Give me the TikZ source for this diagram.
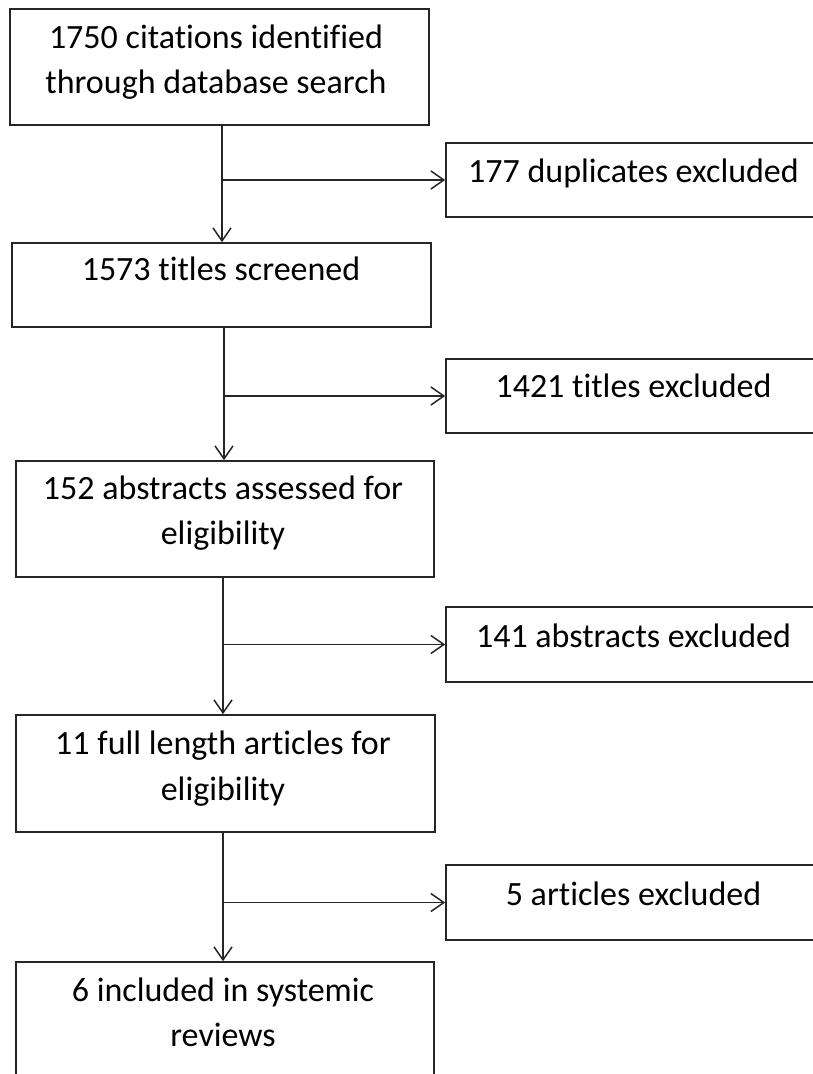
\documentclass[tikz,border=0pt]{standalone}
\usepackage{fontspec}
\setmainfont{Carlito}[Ligatures=NoCommon]
\usetikzlibrary{arrows.meta}
\begin{document}
\begin{tikzpicture}[x=1pt,y=-1pt,
  box/.style={draw=black!85,line width=1.6pt,rectangle,inner sep=0pt},
  txt/.style={anchor=base,align=center,inner sep=0pt,font=\fontsize{34}{45.5}\selectfont},
  arr/.style={draw=black!85,line width=1.6pt,-{Straight Barb[length=13pt,width=18pt,line width=1.5pt]}}]
\useasboundingbox (0,0) rectangle (812,1074);
% main column boxes
\node[box,minimum width=419pt,minimum height=116pt] (b1) at (219.5,67) {};
\node[box,minimum width=419pt,minimum height=84pt] (b2) at (221.5,285) {};
\node[box,minimum width=418pt,minimum height=116pt] (b3) at (225,519) {};
\node[box,minimum width=419pt,minimum height=117pt] (b4) at (225.5,773.5) {};
\node[box,minimum width=418pt,minimum height=116pt] (b5) at (225,1020) {};
% right boxes
\node[box,minimum width=375pt,minimum height=74pt] (r1) at (633.5,180) {};
\node[box,minimum width=375pt,minimum height=74pt] (r2) at (633.5,396) {};
\node[box,minimum width=375pt,minimum height=75pt] (r3) at (633.5,644.5) {};
\node[box,minimum width=375pt,minimum height=75pt] (r4) at (633.5,902.5) {};
% texts (base anchor = baseline of last line)
\node[txt] (t1) at (216,93.5) {1750 citations identified\\through database search};
\node[txt] (t2) at (221,280) {1573 titles screened};
\node[txt] (t3) at (223,544.5) {152 abstracts assessed for\\eligibility};
\node[txt] (t4) at (223,800) {11 full length articles for\\eligibility};
\node[txt] (t5) at (223,1046.5) {6 included in systemic\\reviews};
\node[txt] (s1) at (633.5,182) {177 duplicates excluded};
\node[txt] (s2) at (633.5,397) {1421 titles excluded};
\node[txt] (s3) at (633.5,647) {141 abstracts excluded};
\node[txt] (s4) at (633.5,905) {5 articles excluded};
% columns
\coordinate (c1) at (222,0);
\coordinate (c2) at (224,0);
\coordinate (c3) at (223,0);
\coordinate (c4) at (223,0);
% vertical connectors
\draw[arr] (b1.south -| c1) -- (b2.north -| c1);
\draw[arr] (b2.south -| c2) -- (b3.north -| c2);
\draw[arr] (b3.south -| c3) -- (b4.north -| c3);
\draw[arr] (b4.south -| c4) -- (b5.north -| c4);
% branch connectors
\draw[arr] (c1 |- r1.west) -- (r1.west);
\draw[arr] (c2 |- r2.west) -- (r2.west);
\draw[arr] (c3 |- r3.west) -- (r3.west);
\draw[arr] (c4 |- r4.west) -- (r4.west);
\end{tikzpicture}
\end{document}
